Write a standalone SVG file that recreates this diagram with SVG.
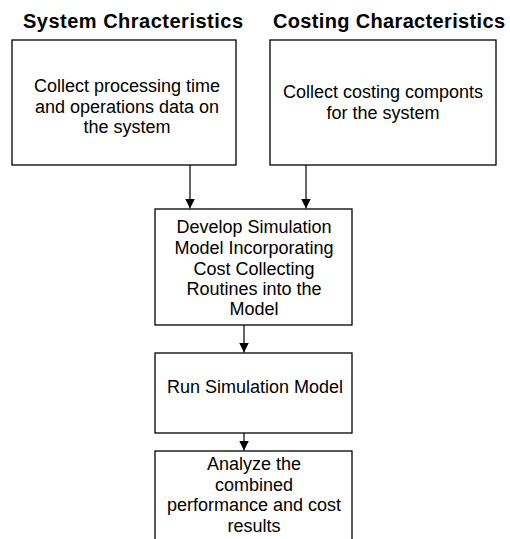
<svg xmlns="http://www.w3.org/2000/svg" width="510" height="539" viewBox="0 0 510 539">
<style>
.box{fill:#fff;stroke:#000;stroke-width:1.3}
.t{font-family:"Liberation Sans",Arial,sans-serif;font-size:18px;fill:#000;text-anchor:middle}
.h{font-family:"Liberation Sans",Arial,sans-serif;font-size:20px;font-weight:bold;fill:#000;text-anchor:middle}
.c{stroke:#000;stroke-width:1.2;fill:none}
</style>
<defs>
<marker id="ah" viewBox="0 0 10 10" refX="10" refY="5" markerWidth="10" markerHeight="10" markerUnits="userSpaceOnUse" orient="auto">
<path d="M0,0 L10,5 L0,10 z" fill="#000"/>
</marker>
</defs>
<rect width="510" height="539" fill="#fff"/>
<g id="title1"><text class="h" x="133" y="28" textLength="220" lengthAdjust="spacing">System Chracteristics</text></g>
<g id="title2"><text class="h" x="389" y="28" textLength="232" lengthAdjust="spacing">Costing Characteristics</text></g>
<g id="n1">
<rect class="box" x="12" y="40" width="224" height="125"/>
<text class="t" x="127" y="92">Collect processing time</text>
<text class="t" x="127" y="113">and operations data on</text>
<text class="t" x="127" y="133">the system</text>
</g>
<g id="n2">
<rect class="box" x="270" y="40" width="226" height="125"/>
<text class="t" x="383" y="98">Collect costing componts</text>
<text class="t" x="383" y="119">for the system</text>
</g>
<g id="n3">
<rect class="box" x="155" y="209" width="197" height="116"/>
<text class="t" x="254" y="233">Develop Simulation</text>
<text class="t" x="254" y="254">Model Incorporating</text>
<text class="t" x="254" y="275">Cost Collecting</text>
<text class="t" x="254" y="295">Routines into the</text>
<text class="t" x="254" y="315">Model</text>
</g>
<g id="n4">
<rect class="box" x="155" y="353" width="197" height="80"/>
<text class="t" x="255" y="393">Run Simulation Model</text>
</g>
<g id="n5">
<rect class="box" x="155" y="451" width="197" height="120"/>
<text class="t" x="254" y="470">Analyze the</text>
<text class="t" x="254" y="491">combined</text>
<text class="t" x="254" y="511">performance and cost</text>
<text class="t" x="254" y="532">results</text>
</g>
<g id="connectors">
<line class="c" x1="190" y1="165" x2="190" y2="208.5" marker-end="url(#ah)"/>
<line class="c" x1="306" y1="165" x2="306" y2="208.5" marker-end="url(#ah)"/>
<line class="c" x1="244" y1="325" x2="244" y2="352.5" marker-end="url(#ah)"/>
<line class="c" x1="244" y1="433" x2="244" y2="450.5" marker-end="url(#ah)"/>
</g>
</svg>
